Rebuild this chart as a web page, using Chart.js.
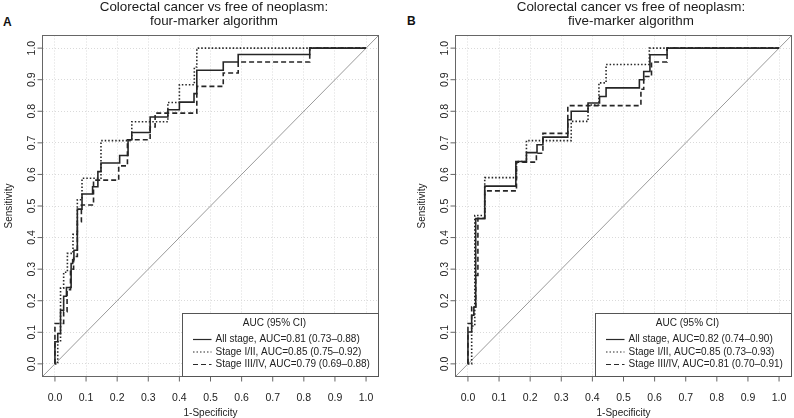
<!DOCTYPE html>
<html>
<head>
<meta charset="utf-8">
<script src="https://cdn.jsdelivr.net/npm/chart.js@4.4.0/dist/chart.umd.min.js"></script>
<style>
body{margin:0;width:794px;height:418px;background:#fff;position:relative;overflow:hidden;font-family:"Liberation Sans",Arial,sans-serif}
.tag{position:absolute;font-weight:bold;font-size:12px;line-height:12px;color:#111}
canvas{position:absolute;top:0}
</style>
</head>
<body>
<div class="tag" style="left:3px;top:16px">A</div>
<div class="tag" style="left:407px;top:15px">B</div>
<canvas id="chartA" width="400" height="418" style="left:0"></canvas>
<canvas id="chartB" width="381" height="418" style="left:413px"></canvas>
<script>
// ticks, same for both panels
var xTicks = [0, 0.1, 0.2, 0.3, 0.4, 0.5, 0.6, 0.7, 0.8, 0.9, 1.0];
var yTicks = [0, 0.1, 0.2, 0.3, 0.4, 0.5, 0.6, 0.7, 0.8, 0.9, 1.0];
var diagX = [-0.04, 1.04];

var titleA = ['Colorectal cancer vs free of neoplasm:', 'four-marker algorithm'];
var titleB = ['Colorectal cancer vs free of neoplasm:', 'five-marker algorithm'];
var legendTitle = 'AUC (95% CI)';
var seriesNames = ['All stage', 'Stage I/II', 'Stage III/IV'];
var aucA = ['AUC=0.81 (0.73\u20130.88)', 'AUC=0.85 (0.75\u20130.92)', 'AUC=0.79 (0.69\u20130.88)'];
var aucB = ['AUC=0.82 (0.74\u20130.90)', 'AUC=0.85 (0.73\u20130.93)', 'AUC=0.81 (0.70\u20130.91)'];

// ROC steps: 1-specificity where sensitivity jumps, sensitivity after the jump
// panel A
var fprA_all = [0, 0, 0.009, 0.018, 0.028, 0.037, 0.052, 0.057, 0.061, 0.072, 0.087, 0.121, 0.138, 0.148, 0.208, 0.235, 0.247, 0.306, 0.363, 0.4, 0.447, 0.456, 0.541, 0.589, 0.819, 1];
var tprA_all = [0, 0.07, 0.096, 0.17, 0.214, 0.242, 0.318, 0.33, 0.36, 0.49, 0.538, 0.561, 0.609, 0.636, 0.66, 0.71, 0.733, 0.782, 0.805, 0.829, 0.856, 0.93, 0.956, 0.98, 1, 1];
var fprA_12 = [0, 0.009, 0.018, 0.028, 0.04, 0.058, 0.072, 0.087, 0.148, 0.247, 0.363, 0.4, 0.448, 0.456, 1];
var tprA_12 = [0, 0.07, 0.24, 0.29, 0.35, 0.41, 0.52, 0.588, 0.707, 0.767, 0.828, 0.884, 0.94, 1, 1];
var fprA_34 = [0, 0, 0.028, 0.039, 0.05, 0.06, 0.072, 0.085, 0.124, 0.205, 0.233, 0.306, 0.322, 0.456, 0.541, 0.589, 0.819, 1];
var tprA_34 = [0, 0.128, 0.165, 0.235, 0.3, 0.34, 0.45, 0.503, 0.582, 0.627, 0.71, 0.75, 0.794, 0.879, 0.921, 0.956, 1, 1];

// panel B
var fprB_all = [0, 0, 0.012, 0.019, 0.025, 0.054, 0.154, 0.188, 0.222, 0.241, 0.321, 0.332, 0.386, 0.423, 0.444, 0.551, 0.565, 0.585, 0.64, 1];
var tprB_all = [0, 0.101, 0.154, 0.18, 0.46, 0.563, 0.641, 0.669, 0.694, 0.718, 0.773, 0.8, 0.826, 0.847, 0.874, 0.9, 0.926, 0.979, 1, 1];
var fprB_12 = [0, 0.012, 0.022, 0.054, 0.156, 0.188, 0.332, 0.386, 0.421, 0.444, 0.583, 1];
var tprB_12 = [0, 0.12, 0.47, 0.59, 0.641, 0.707, 0.768, 0.82, 0.89, 0.948, 1, 1];
var fprB_34 = [0, 0, 0.012, 0.025, 0.032, 0.054, 0.156, 0.22, 0.241, 0.321, 0.556, 0.565, 0.59, 0.64, 1];
var tprB_34 = [0, 0.128, 0.18, 0.28, 0.461, 0.548, 0.639, 0.667, 0.73, 0.818, 0.87, 0.91, 0.956, 1, 1];

var dashes = [[], [1.5, 2], [5, 3]];
var FONT = '"Liberation Sans", Arial, sans-serif';

function pts(xs, ys) {
	var out = [];
	for (var i = 0; i < xs.length; i++) out.push({x: xs[i], y: ys[i]});
	return out;
}

function seg(ctx, x1, y1, x2, y2) {
	ctx.beginPath();
	ctx.moveTo(x1, y1);
	ctx.lineTo(x2, y2);
	ctx.stroke();
}

// R style frame, tick labels, titles and legend
var rframe = {
	id: 'rframe',
	afterDraw: function(chart, args, opts) {
		var ctx = chart.ctx, a = chart.chartArea;
		var xs = chart.scales.x, ys = chart.scales.y;
		ctx.save();
		ctx.strokeStyle = '#666';
		ctx.lineWidth = 1;
		ctx.setLineDash([]);
		ctx.strokeRect(a.left, a.top, a.right - a.left, a.bottom - a.top);

		ctx.fillStyle = '#222';
		ctx.font = '10.5px ' + FONT;
		ctx.textAlign = 'center';
		ctx.textBaseline = 'alphabetic';
		xTicks.forEach(function(v) {
			var px = xs.getPixelForValue(v);
			seg(ctx, px, a.bottom, px, a.bottom + 5);
			ctx.fillText(v.toFixed(1), px, 400.5);
		});
		yTicks.forEach(function(v) {
			var py = ys.getPixelForValue(v);
			seg(ctx, a.left - 5, py, a.left, py);
			ctx.save();
			ctx.translate(a.left - 7.5, py);
			ctx.rotate(-Math.PI / 2);
			ctx.fillText(v.toFixed(1), 0, 0);
			ctx.restore();
		});

		ctx.font = '10px ' + FONT;
		ctx.fillText('1-Specificity', (a.left + a.right) / 2, 416);
		ctx.save();
		ctx.translate(11.5, (a.top + a.bottom) / 2);
		ctx.rotate(-Math.PI / 2);
		ctx.fillText('Sensitivity', 0, 0);
		ctx.restore();

		ctx.font = '13.4px ' + FONT;
		ctx.fillStyle = '#1a1a1a';
		ctx.fillText(opts.title[0], opts.titleX, 11);
		ctx.fillText(opts.title[1], opts.titleX, 24.5);

		// legend, bottom right inside the box
		var bl = a.right - 196, bt = a.bottom - 63;
		ctx.fillStyle = '#fff';
		ctx.fillRect(bl, bt, a.right - bl, a.bottom - bt);
		ctx.strokeStyle = '#555';
		ctx.strokeRect(bl, bt, a.right - bl, a.bottom - bt);
		ctx.fillStyle = '#222';
		ctx.font = '10px ' + FONT;
		ctx.textBaseline = 'middle';
		ctx.fillText(legendTitle, bl + 92, bt + 9.5);
		ctx.textAlign = 'left';
		var rows = [26, 38.5, 51];
		for (var i = 0; i < 3; i++) {
			ctx.strokeStyle = '#2a2a2a';
			ctx.lineWidth = 1.2;
			ctx.setLineDash(dashes[i]);
			seg(ctx, bl + 10.5, bt + rows[i], bl + 29, bt + rows[i]);
			ctx.setLineDash([]);
			ctx.fillText(seriesNames[i] + ', ' + opts.auc[i], bl + 33, bt + rows[i]);
		}
		ctx.restore();
	}
};

function makeChart(id, title, titleX, auc, curves) {
	var canvas = document.getElementById(id);
	var datasets = [{
		data: pts(diagX, diagX),
		showLine: true,
		borderColor: '#9a9a9a',
		borderWidth: 1,
		pointRadius: 0,
		order: 5
	}];
	curves.forEach(function(c, i) {
		datasets.push({
			label: seriesNames[i],
			data: pts(c[0], c[1]),
			showLine: true,
			stepped: 'before',
			borderColor: '#262626',
			borderWidth: 1.6,
			borderDash: dashes[i],
			pointRadius: 0,
			order: i
		});
	});
	var gridOpts = {color: '#dadada', lineWidth: 1, drawTicks: false, borderDash: [1, 2]};
	return new Chart(canvas, {
		type: 'scatter',
		data: {datasets: datasets},
		options: {
			responsive: false,
			animation: false,
			events: [],
			layout: {padding: {left: 42.5, top: 35.5, right: canvas.width - 378.5, bottom: 418 - 376.5}},
			plugins: {
				legend: {display: false},
				tooltip: {enabled: false},
				rframe: {title: title, titleX: titleX, auc: auc}
			},
			scales: {
				x: {
					type: 'linear', min: -0.04, max: 1.04,
					afterBuildTicks: function(s) { s.ticks = xTicks.map(function(v) { return {value: v}; }); },
					afterFit: function(s) { s.height = 0; },
					ticks: {display: false},
					grid: gridOpts,
					border: {display: false, dash: [1, 2]}
				},
				y: {
					type: 'linear', min: -0.04, max: 1.04,
					afterBuildTicks: function(s) { s.ticks = yTicks.map(function(v) { return {value: v}; }); },
					afterFit: function(s) { s.width = 0; },
					ticks: {display: false},
					grid: gridOpts,
					border: {display: false, dash: [1, 2]}
				}
			}
		},
		plugins: [rframe]
	});
}

makeChart('chartA', titleA, 214, aucA, [[fprA_all, tprA_all], [fprA_12, tprA_12], [fprA_34, tprA_34]]);
makeChart('chartB', titleB, 218, aucB, [[fprB_all, tprB_all], [fprB_12, tprB_12], [fprB_34, tprB_34]]);
</script>
</body>
</html>
